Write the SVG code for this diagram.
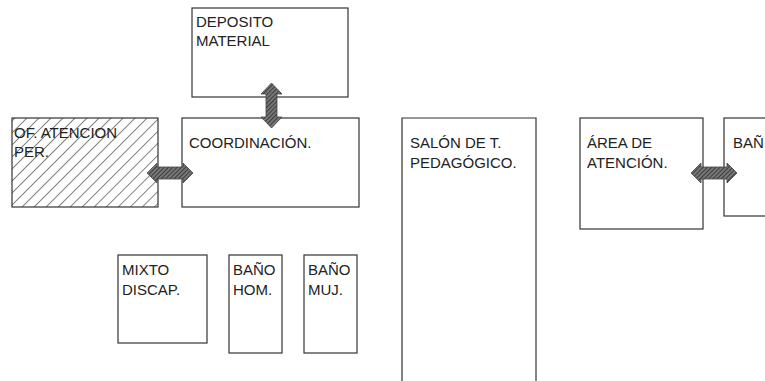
<svg xmlns="http://www.w3.org/2000/svg" width="765" height="381" viewBox="0 0 765 381">
<style>
.box{fill:#fff;stroke:#333;stroke-width:1.2}
.lbl{font-family:"Liberation Sans",Arial,sans-serif;font-size:15px;fill:#222}
.arr{fill:url(#hatchDark);stroke:#444;stroke-width:0.8}
</style>
<defs>
<pattern id="hatch" patternUnits="userSpaceOnUse" width="8.5" height="8.5" patternTransform="rotate(45)">
<rect width="8.5" height="8.5" fill="#fff"/>
<line x1="0" y1="0" x2="0" y2="8.5" stroke="#222" stroke-width="1.1"/>
</pattern>
<pattern id="hatchDark" patternUnits="userSpaceOnUse" width="3" height="3" patternTransform="rotate(45)">
<rect width="3" height="3" fill="#777"/>
<line x1="0" y1="0" x2="0" y2="3" stroke="#222" stroke-width="1.4"/>
</pattern>
</defs>
<rect width="765" height="381" fill="#fff"/>
<g id="deposito">
<rect class="box" x="192" y="8" width="156" height="89"/>
<text class="lbl" x="196" y="27">DEPOSITO</text>
<text class="lbl" x="196" y="46">MATERIAL</text>
</g>
<g id="of-atencion">
<rect x="12" y="118" width="146" height="89" fill="url(#hatch)" stroke="#333" stroke-width="1.2"/>
<text class="lbl" x="14" y="138">OF. ATENCION</text>
<text class="lbl" x="14" y="157">PER.</text>
</g>
<g id="coordinacion">
<rect class="box" x="182" y="118" width="177" height="89"/>
<text class="lbl" x="189" y="148">COORDINACIÓN.</text>
</g>
<g id="salon">
<path d="M402 382 V118 H536 V382" fill="#fff" stroke="#333" stroke-width="1.2"/>
<text class="lbl" x="410" y="148">SALÓN DE T.</text>
<text class="lbl" x="410" y="168">PEDAGÓGICO.</text>
</g>
<g id="area-atencion">
<rect class="box" x="580" y="118" width="123" height="111"/>
<text class="lbl" x="587" y="148">ÁREA DE</text>
<text class="lbl" x="587" y="168">ATENCIÓN.</text>
</g>
<g id="bano-right">
<rect class="box" x="724" y="118" width="50" height="98"/>
<text class="lbl" x="733" y="148">BAÑ</text>
</g>
<g id="mixto">
<rect class="box" x="118" y="255" width="89" height="88"/>
<text class="lbl" x="122" y="275">MIXTO</text>
<text class="lbl" x="122" y="295">DISCAP.</text>
</g>
<g id="bano-hom">
<rect class="box" x="229" y="255" width="53" height="98"/>
<text class="lbl" x="233" y="275">BAÑO</text>
<text class="lbl" x="233" y="295">HOM.</text>
</g>
<g id="bano-muj">
<rect class="box" x="304" y="255" width="53" height="98"/>
<text class="lbl" x="308" y="275">BAÑO</text>
<text class="lbl" x="308" y="295">MUJ.</text>
</g>
<g id="connectors">
<path class="arr" d="M271.5 83 L282 94 L277 94 L277 117 L282 117 L271.5 128 L261 117 L266 117 L266 94 L261 94 Z"/>
<path class="arr" d="M147 173 L157 163 L157 167 L183 167 L183 163 L193 173 L183 183 L183 179 L157 179 L157 183 Z"/>
<path class="arr" d="M691 173 L701 163 L701 167 L727 167 L727 163 L737 173 L727 183 L727 179 L701 179 L701 183 Z"/>
</g>
</svg>
